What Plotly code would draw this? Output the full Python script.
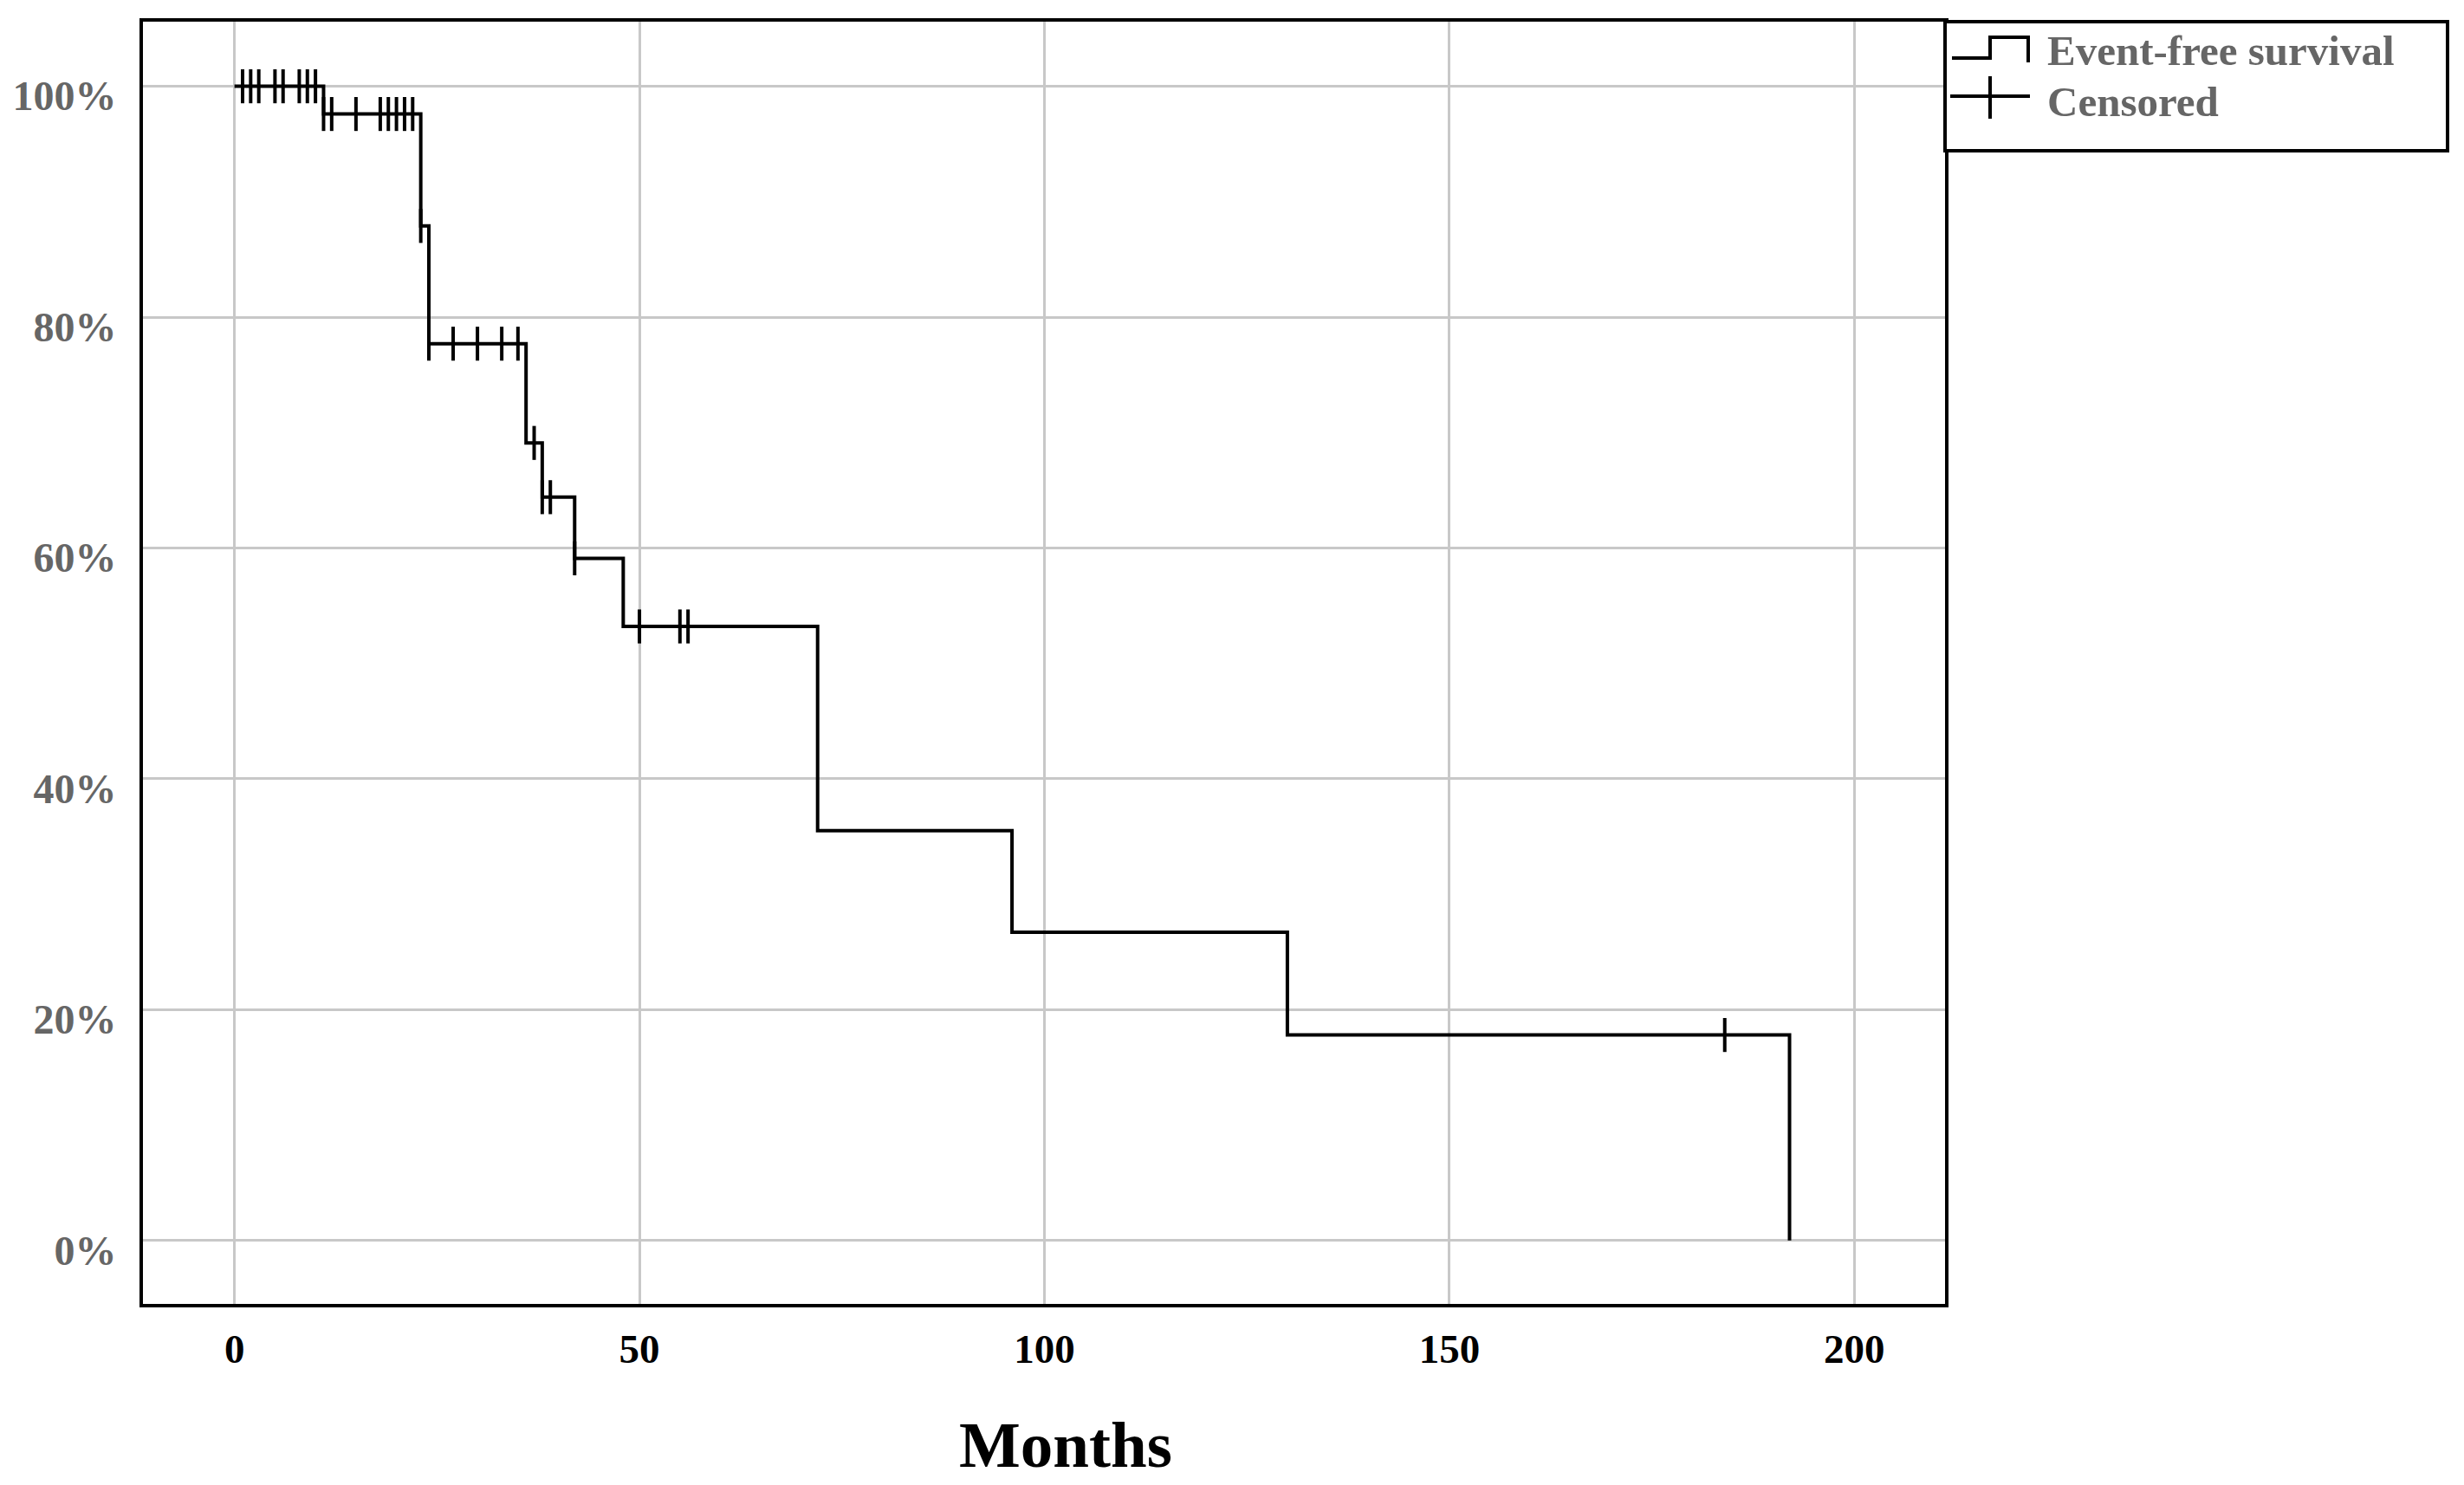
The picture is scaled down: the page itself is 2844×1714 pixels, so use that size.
import plotly.graph_objects as go

# Kaplan-Meier step curve (months, survival proportion)
step_times = [0, 11, 23, 24, 36, 38, 42, 48, 72, 96, 130, 192]
step_surv = [1.0, 0.976, 0.879, 0.777, 0.691, 0.644, 0.591, 0.532, 0.355, 0.267, 0.178, 0.0]

# Censored observations
censor_times = [1, 2, 3, 5, 6, 8, 9, 10,
                11, 12, 15, 18, 19, 20, 21, 22,
                23,
                24, 27, 30, 33, 35,
                37,
                38, 39,
                42,
                50, 55, 56,
                184]
censor_surv = ([1.0] * 8 + [0.976] * 8 + [0.879] + [0.777] * 5 + [0.691]
               + [0.644] * 2 + [0.591] + [0.532] * 3 + [0.178])

x_ticks = [0, 50, 100, 150, 200]
y_ticks = [0, 0.2, 0.4, 0.6, 0.8, 1.0]
y_tick_labels = ["0%", "20%", "40%", "60%", "80%", "100%"]
legend_labels = ["Event-free survival", "Censored"]
x_title = "Months"

FONT = "Liberation Serif"
GRAY = "#666666"

# page geometry (the html body adds an 8px offset)
OFF = 8
W, H = 2844, 1714
L, R, T, B = 165, 2245, 25, 1505  # plot area in page pixels
PW, PH = R - L, B - T


def px(xp):
    return (xp - L) / PW


def py(yp):
    return (B - yp) / PH


fig = go.Figure()

fig.add_trace(go.Scatter(
    x=step_times, y=step_surv, mode="lines", line_shape="hv",
    line=dict(color="black", width=4), name=legend_labels[0],
    showlegend=False,
))

fig.add_trace(go.Scatter(
    x=censor_times, y=censor_surv, mode="markers",
    marker=dict(symbol="line-ns", size=28, line=dict(color="black", width=4)),
    name=legend_labels[1], showlegend=False,
))

# ---- custom legend (box, glyphs, labels) ----
shapes = [
    dict(type="rect", xref="paper", yref="paper",
         x0=px(2245), x1=px(2825), y0=py(174), y1=py(25),
         line=dict(color="black", width=4), fillcolor="white", layer="above"),
    dict(type="path", xref="paper", yref="paper",
         path=(f"M {px(2253)} {py(67)} L {px(2297)} {py(67)} L {px(2297)} {py(43)} "
               f"L {px(2341)} {py(43)} L {px(2341)} {py(72)}"),
         line=dict(color="black", width=4), layer="above"),
    dict(type="line", xref="paper", yref="paper",
         x0=px(2251), x1=px(2343), y0=py(111), y1=py(111),
         line=dict(color="black", width=4), layer="above"),
    dict(type="line", xref="paper", yref="paper",
         x0=px(2297), x1=px(2297), y0=py(88), y1=py(137),
         line=dict(color="black", width=4), layer="above"),
]
annotations = [
    dict(text=legend_labels[0], xref="paper", yref="paper", x=px(2361), y=py(58),
         xanchor="left", yanchor="middle", showarrow=False,
         font=dict(family=FONT, size=49, color=GRAY, weight="bold")),
    dict(text=legend_labels[1], xref="paper", yref="paper", x=px(2361), y=py(117),
         xanchor="left", yanchor="middle", showarrow=False,
         font=dict(family=FONT, size=49, color=GRAY, weight="bold")),
    dict(text=x_title, xref="paper", yref="paper", x=px(1230), y=py(1667),
         xanchor="center", yanchor="middle", showarrow=False,
         font=dict(family=FONT, size=75, color="black", weight="bold")),
]

fig.update_layout(
    width=W - OFF, height=H - OFF,
    paper_bgcolor="white", plot_bgcolor="white",
    margin=dict(l=L - OFF, r=W - R, t=T - OFF, b=H - B, autoexpand=False),
    font=dict(family=FONT),
    showlegend=False,
    shapes=shapes,
    annotations=annotations,
)

fig.update_xaxes(
    range=[-11.3, 211.2], tickvals=x_ticks,
    showgrid=True, gridcolor="#c8c8c8", gridwidth=3,
    showline=True, linecolor="black", linewidth=4, mirror=True,
    zeroline=False, ticks="", ticklabelstandoff=8,
    tickfont=dict(family=FONT, size=47, color="black", weight="bold"),
)

fig.update_yaxes(
    range=[-0.055, 1.056], tickvals=y_ticks, ticktext=y_tick_labels,
    showgrid=True, gridcolor="#c8c8c8", gridwidth=3,
    showline=True, linecolor="black", linewidth=4, mirror=True,
    zeroline=False, ticks="", ticklabelstandoff=17, ticklabelshift=11,
    tickfont=dict(family=FONT, size=48, color=GRAY, weight="bold"),
)

fig.write_html("out.html")
